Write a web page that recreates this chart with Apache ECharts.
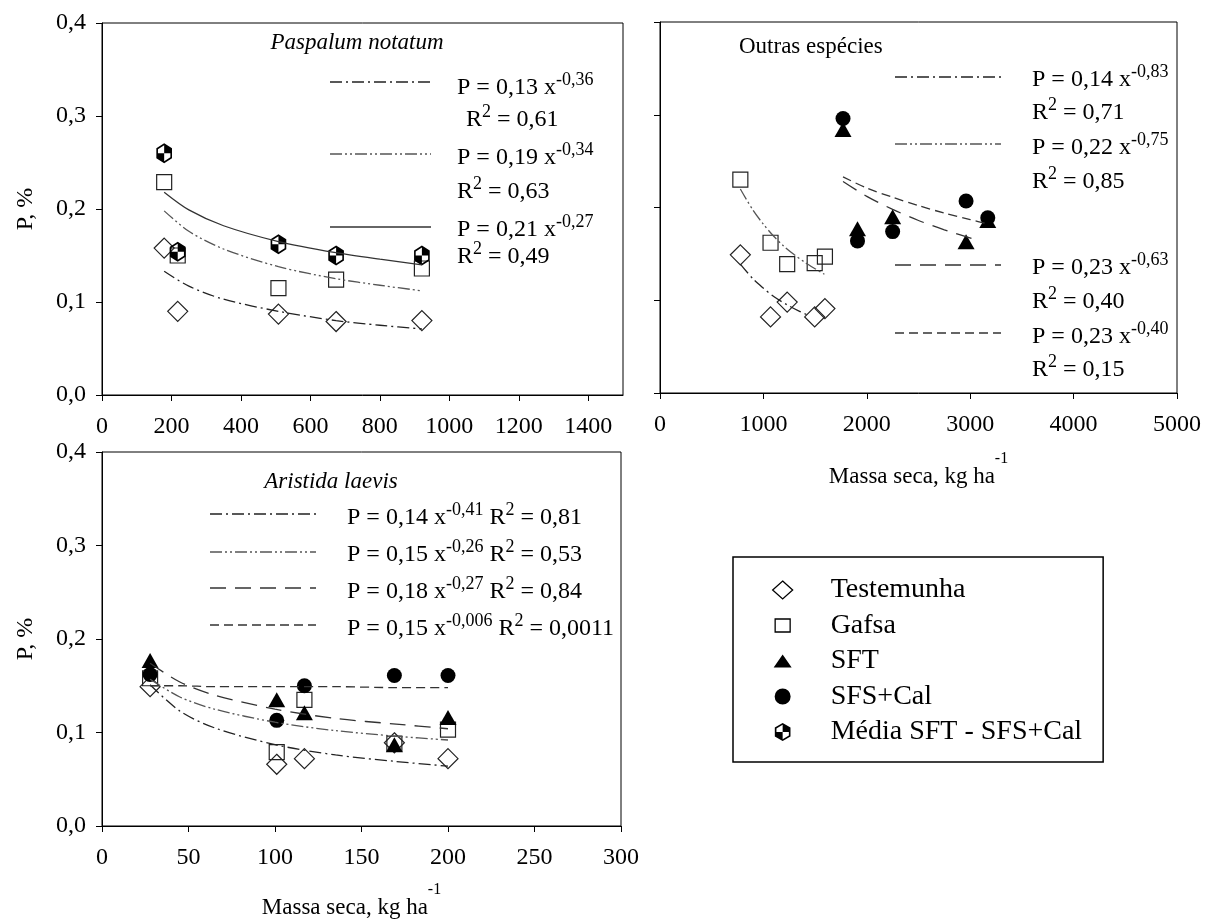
<!DOCTYPE html>
<html style="height: 100%">
<head>
<meta charset="utf-8">
<title>P x massa seca</title>
<script src="https://cdn.jsdelivr.net/npm/echarts@6/dist/echarts.min.js"></script>
</head>
<body style="height: 100%; margin: 0; background: #fff">
<div id="container" style="width: 1212px; height: 919px"></div>
<script type="text/javascript">

// Paspalum notatum
const pnMass = [179, 218, 508, 674, 921];
const pnTest = [0.158, 0.090, 0.087, 0.079, 0.080];
const pnGafsa = [0.229, 0.150, 0.115, 0.124, 0.136];
const pnMedia = [0.260, 0.154, 0.162, 0.150, 0.150];
// fitted curves
const pnFitX = [179, 250, 350, 508, 674, 800, 921];
const pnFitTest = [0.133, 0.117, 0.103, 0.090, 0.080, 0.075, 0.071];
const pnFitGafsa = [0.198, 0.176, 0.157, 0.138, 0.125, 0.118, 0.112];
const pnFitMedia = [0.218, 0.199, 0.182, 0.165, 0.153, 0.146, 0.140];

// Outras especies
const oeMassTG = [777, 1069, 1230, 1496, 1595];
const oeTest = [0.149, 0.082, 0.098, 0.082, 0.091];
const oeGafsa = [0.230, 0.162, 0.139, 0.140, 0.147];
const oeMassS = [1770, 1910, 2250, 2960, 3170];
const oeSFT = [0.284, 0.177, 0.190, 0.163, 0.186];
const oeSFS = [0.296, 0.164, 0.174, 0.207, 0.189];
const oeFitTestX = [777, 900, 1000, 1100, 1230, 1350, 1450];
const oeFitTest = [0.139, 0.123, 0.113, 0.104, 0.095, 0.088, 0.083];
const oeFitGafsaX = [777, 900, 1000, 1100, 1200, 1300, 1400, 1500, 1590];
const oeFitGafsa = [0.220, 0.197, 0.182, 0.169, 0.158, 0.149, 0.141, 0.134, 0.128];
const oeFitSFTX = [1770, 2000, 2250, 2500, 2750, 3090];
const oeFitSFT = [0.228, 0.212, 0.198, 0.186, 0.176, 0.164];
const oeFitSFSX = [1770, 2000, 2250, 2500, 2750, 3000, 3176];
const oeFitSFS = [0.233, 0.221, 0.211, 0.202, 0.194, 0.187, 0.182];

// Aristida laevis
const alMass = [27.8, 101, 117, 169, 200];
const alTest = [0.149, 0.066, 0.072, 0.089, 0.072];
const alGafsa = [0.158, 0.079, 0.135, 0.088, 0.103];
const alSFT = [0.177, 0.135, 0.121, 0.087, 0.116];
const alSFS = [0.162, 0.113, 0.150, 0.161, 0.161];
const alFitX = [27.8, 45, 65, 100, 135, 170, 200];
const alFitTest = [0.151, 0.123, 0.105, 0.087, 0.076, 0.069, 0.064];
const alFitGafsa = [0.157, 0.138, 0.125, 0.111, 0.102, 0.096, 0.092];
const alFitSFT = [0.174, 0.154, 0.140, 0.125, 0.115, 0.109, 0.104];
const alFitSFS = [0.150, 0.150, 0.149, 0.149, 0.149, 0.148, 0.148];

const FONT = 'Liberation Serif';
// half-filled hexagon: outer ring plus two black quadrants
const HEX = 'path://M0,-100L87,-50L87,50L0,100L-87,50L-87,-50Z' +
  'M0,-80L-69,-40L-69,40L0,80L69,40L69,-40Z' +
  'M0,0L0,-80L69,-40L69,0Z' +
  'M0,0L0,80L-69,40L-69,0Z';
// legend icons inside a 20x18 box (the lone M..Z points only pad the box)
const ICON_RECT = 'path://M0,0ZM2.5,2.5L17.5,2.5L17.5,15.5L2.5,15.5ZM20,18Z';
const ICON_TRI = 'path://M0,0ZM10,2.5L19,15.5L1,15.5ZM20,18Z';
const ICON_CIRC = 'path://M0,0ZM10,1A8,8 0 1 1 10,17A8,8 0 1 1 10,1ZM20,18Z';

const DASH_DOT = [12, 4, 2, 4];
const DASH_DOT_DOT = [12, 3, 2, 3, 2, 3];
const LONG_DASH = [16, 9];
const SHORT_DASH = [9, 5];

function zip(xs, ys) { return xs.map((x, i) => [x, ys[i]]); }

const hollow = { color: 'rgba(0,0,0,0)', borderColor: '#222', borderWidth: 1.2, opacity: 1 };
const filled = { color: '#000', opacity: 1 };

function pts(name, idx, xs, ys, symbol, size, style) {
  return {
    name: name, type: 'scatter', xAxisIndex: idx, yAxisIndex: idx,
    symbol: symbol, symbolSize: size, symbolKeepAspect: true,
    itemStyle: style, data: zip(xs, ys), z: 3
  };
}
function fit(idx, xs, ys, dash, color) {
  return {
    name: 'ajuste', type: 'line', xAxisIndex: idx, yAxisIndex: idx,
    smooth: 0.3, showSymbol: false, symbol: 'none',
    lineStyle: { color: color, width: 1.3, type: dash },
    data: zip(xs, ys), z: 4, silent: true
  };
}

const yFmt = v => v.toFixed(1).replace('.', ',');
const tickFont = { fontFamily: FONT, fontSize: 24, color: '#000' };

function xAx(idx, max, interval, withName, nameGap, namePad) {
  const ax = {
    gridIndex: idx, type: 'value', min: 0, max: max, interval: interval,
    axisLine: { onZero: false, lineStyle: { color: '#000', width: 1 } },
    axisTick: { inside: false, length: 6, lineStyle: { color: '#000' } },
    axisLabel: Object.assign({ margin: 20, showMaxLabel: max % interval === 0,
                               formatter: v => String(v) }, tickFont),
    splitLine: { show: false }
  };
  if (withName) {
    ax.name = '{m|Massa seca, kg ha}{s|-1}';
    ax.nameLocation = 'middle';
    ax.nameGap = nameGap;
    ax.nameTextStyle = {
      padding: namePad,
      rich: {
        m: { fontFamily: FONT, fontSize: 23, lineHeight: 52, color: '#000' },
        s: { fontFamily: FONT, fontSize: 16, lineHeight: 16, verticalAlign: 'top', color: '#000' }
      }
    };
  }
  return ax;
}
function yAx(idx, showLabels, withName) {
  const ax = {
    gridIndex: idx, type: 'value', min: 0, max: 0.4, interval: 0.1,
    axisLine: { show: true, onZero: false, lineStyle: { color: '#000', width: 1 } },
    axisTick: { show: true, inside: false, length: 6, lineStyle: { color: '#000' } },
    axisLabel: Object.assign({ show: showLabels, margin: 16, formatter: yFmt }, tickFont),
    splitLine: { show: false }
  };
  if (withName) {
    ax.name = 'P, %';
    ax.nameLocation = 'middle';
    ax.nameGap = 64;
    ax.nameTextStyle = { fontFamily: FONT, fontSize: 24, color: '#000' };
  }
  return ax;
}

// equation annotations
const eqRich = {
  m: { fontFamily: FONT, fontSize: 24, lineHeight: 33, color: '#000' },
  s: { fontFamily: FONT, fontSize: 18, lineHeight: 18, verticalAlign: 'top', color: '#000' }
};
function txt(x, y, text) {
  return {
    type: 'text', x: x, y: y, silent: true,
    style: { text: text, rich: eqRich, align: 'left', verticalAlign: 'middle',
             textAlign: 'left', textVerticalAlign: 'middle' }
  };
}
function P(a, b) { return '{m|P = ' + a + ' x}{s|' + b + '}'; }
function R(r) { return '{m|R}{s|2}{m| = ' + r + '}'; }
function sample(x1, x2, y, dash, color) {
  return {
    type: 'line', silent: true,
    shape: { x1: x1, y1: y, x2: x2, y2: y },
    style: { stroke: color, lineWidth: 1.3, lineDash: dash }
  };
}
function title(x, y, text, italic, align) {
  return {
    type: 'text', x: x, y: y, silent: true,
    style: { text: text, fontFamily: FONT, fontSize: 23, fontStyle: italic ? 'italic' : 'normal',
             fill: '#000', align: align, verticalAlign: 'middle',
             textAlign: align, textVerticalAlign: 'middle' }
  };
}

const C1 = '#222', C2 = '#555', C3 = '#333';

const graphics = [
  title(357, 43, 'Paspalum notatum', true, 'center'),
  sample(330, 431, 82, DASH_DOT, C1),
  sample(330, 431, 154, DASH_DOT_DOT, C2),
  sample(330, 431, 227, null, C3),
  txt(457, 88, P('0,13', '-0,36')),
  txt(466, 120, R('0,61')),
  txt(457, 158, P('0,19', '-0,34')),
  txt(457, 192, R('0,63')),
  txt(457, 230, P('0,21', '-0,27')),
  txt(457, 257, R('0,49')),

  title(739, 47, 'Outras espécies', false, 'left'),
  sample(895, 1001, 77, DASH_DOT, C1),
  sample(895, 1001, 144, DASH_DOT_DOT, C2),
  sample(895, 1001, 265, LONG_DASH, C3),
  sample(895, 1001, 333, SHORT_DASH, C3),
  txt(1032, 80, P('0,14', '-0,83')),
  txt(1032, 113, R('0,71')),
  txt(1032, 148, P('0,22', '-0,75')),
  txt(1032, 182, R('0,85')),
  txt(1032, 268, P('0,23', '-0,63')),
  txt(1032, 302, R('0,40')),
  txt(1032, 337, P('0,23', '-0,40')),
  txt(1032, 370, R('0,15')),

  title(331, 482, 'Aristida laevis', true, 'center'),
  sample(210, 316, 514, DASH_DOT, C1),
  sample(210, 316, 552, DASH_DOT_DOT, C2),
  sample(210, 316, 588, LONG_DASH, C3),
  sample(210, 316, 625, SHORT_DASH, C3),
  txt(347, 518, P('0,14', '-0,41') + '{m| R}{s|2}{m| = 0,81}'),
  txt(347, 555, P('0,15', '-0,26') + '{m| R}{s|2}{m| = 0,53}'),
  txt(347, 592, P('0,18', '-0,27') + '{m| R}{s|2}{m| = 0,84}'),
  txt(347, 629, P('0,15', '-0,006') + '{m| R}{s|2}{m| = 0,0011}')
];

const MEDIA = 'Média SFT - SFS+Cal';

const series = [
  // Paspalum notatum
  fit(0, pnFitX, pnFitTest, DASH_DOT, C1),
  fit(0, pnFitX, pnFitGafsa, DASH_DOT_DOT, C2),
  fit(0, pnFitX, pnFitMedia, 'solid', C3),
  pts('Testemunha', 0, pnMass, pnTest, 'diamond', [20, 20], hollow),
  pts('Gafsa', 0, pnMass, pnGafsa, 'rect', [15, 15], hollow),
  pts(MEDIA, 0, pnMass, pnMedia, HEX, [18, 20], filled),
  // Outras especies
  fit(1, oeFitTestX, oeFitTest, DASH_DOT, C1),
  fit(1, oeFitGafsaX, oeFitGafsa, DASH_DOT_DOT, C2),
  fit(1, oeFitSFTX, oeFitSFT, LONG_DASH, C3),
  fit(1, oeFitSFSX, oeFitSFS, SHORT_DASH, C3),
  pts('Testemunha', 1, oeMassTG, oeTest, 'diamond', [20, 20], hollow),
  pts('Gafsa', 1, oeMassTG, oeGafsa, 'rect', [15, 15], hollow),
  pts('SFT', 1, oeMassS, oeSFT, 'triangle', [17, 15], filled),
  pts('SFS+Cal', 1, oeMassS, oeSFS, 'circle', 15, filled),
  // Aristida laevis
  fit(2, alFitX, alFitTest, DASH_DOT, C1),
  fit(2, alFitX, alFitGafsa, DASH_DOT_DOT, C2),
  fit(2, alFitX, alFitSFT, LONG_DASH, C3),
  fit(2, alFitX, alFitSFS, SHORT_DASH, C3),
  pts('Testemunha', 2, alMass, alTest, 'diamond', [20, 20], hollow),
  pts('Gafsa', 2, alMass, alGafsa, 'rect', [15, 15], hollow),
  pts('SFT', 2, alMass, alSFT, 'triangle', [17, 15], filled),
  pts('SFS+Cal', 2, alMass, alSFS, 'circle', 15, filled)
];

const legendHollow = { color: '#fff', borderColor: '#000', borderWidth: 1.3 };
const legendFilled = { color: '#000', borderWidth: 0 };

const chart = echarts.init(document.getElementById('container'), null, { renderer: 'canvas' });
chart.setOption({
  animation: false,
  backgroundColor: '#fff',
  textStyle: { fontFamily: FONT },
  grid: [
    { left: 102, top: 23, width: 521, height: 372 },
    { left: 660, top: 22, width: 517, height: 371 },
    { left: 102, top: 452, width: 519, height: 374 }
  ].map(g => Object.assign(g, { show: true, borderColor: '#000', borderWidth: 1,
                                 backgroundColor: 'transparent', outerBoundsMode: 'none' })),
  xAxis: [
    xAx(0, 1500, 200, false),
    xAx(1, 5000, 1000, true, 58, 0),
    xAx(2, 300, 50, true, 56, [0, 20, 0, 0])
  ],
  yAxis: [
    yAx(0, true, true),
    yAx(1, false, false),
    yAx(2, true, true)
  ],
  legend: {
    left: 733, top: 557, orient: 'vertical',
    itemWidth: 20, itemHeight: 18, itemGap: 7.5,
    symbolKeepAspect: true,
    padding: [19, 21, 16, 39],
    borderColor: '#000', borderWidth: 1.5,
    textStyle: { fontFamily: FONT, fontSize: 28, lineHeight: 28, color: '#000', padding: [0, 0, 0, 33] },
    data: [
      { name: 'Testemunha', icon: 'diamond', itemStyle: legendHollow },
      { name: 'Gafsa', icon: ICON_RECT, itemStyle: legendHollow },
      { name: 'SFT', icon: ICON_TRI, itemStyle: legendFilled },
      { name: 'SFS+Cal', icon: ICON_CIRC, itemStyle: legendFilled },
      { name: MEDIA, icon: HEX, itemStyle: legendFilled }
    ]
  },
  graphic: graphics,
  series: series
});

</script>
</body>
</html>
